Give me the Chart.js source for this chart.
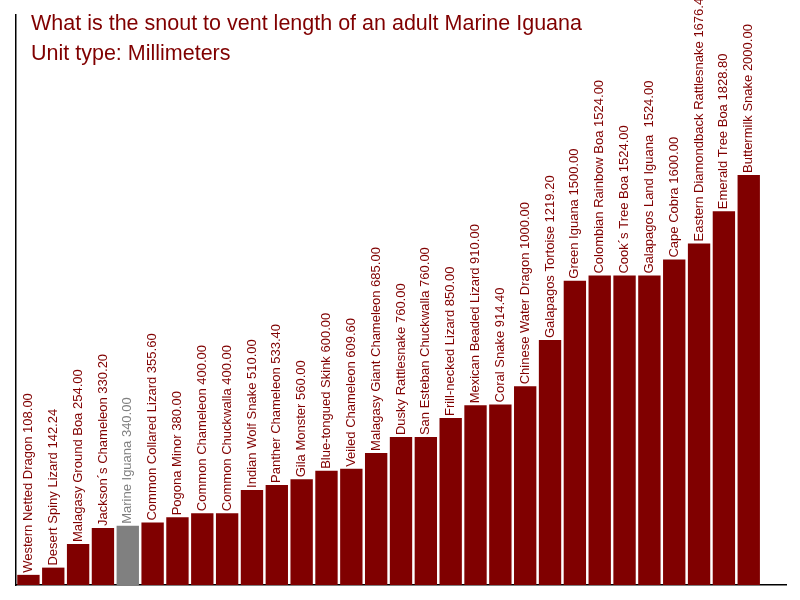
<!DOCTYPE html>
<html><head><meta charset="utf-8">
<script src="https://cdn.jsdelivr.net/npm/chart.js@4"></script>
<style>html,body{margin:0;padding:0;background:#fff}#wrap{width:800px;height:600px}</style>
</head><body><div id="wrap"><canvas id="c" width="800" height="600"></canvas></div>
<script>
const species = [
  'Western Netted Dragon','Desert Spiny Lizard','Malagasy Ground Boa','Jackson\u00b4s Chameleon',
  'Marine Iguana','Common Collared Lizard','Pogona Minor','Common Chameleon','Common Chuckwalla',
  'Indian Wolf Snake','Panther Chameleon','Gila Monster','Blue-tongued Skink','Veiled Chameleon',
  'Malagasy Giant Chameleon','Dusky Rattlesnake','San Esteban Chuckwalla','Frill-necked Lizard',
  'Mexican Beaded Lizard','Coral Snake','Chinese Water Dragon','Galapagos Tortoise','Green Iguana',
  'Colombian Rainbow Boa','Cook\u00b4s Tree Boa','Galapagos Land Iguana ','Cape Cobra',
  'Eastern Diamondback Rattlesnake','Emerald Tree Boa','Buttermilk Snake'
];
const lengths = [
  108.00, 142.24, 254.00, 330.20, 340.00, 355.60, 380.00, 400.00, 400.00,
  510.00, 533.40, 560.00, 600.00, 609.60, 685.00, 760.00, 760.00, 850.00,
  910.00, 914.40, 1000.00, 1219.20, 1500.00, 1524.00, 1524.00, 1524.00, 1600.00,
  1676.40, 1828.80, 2000.00
];
const highlight = 'Marine Iguana';
const titleLines = ['What is the snout to vent length of an adult Marine Iguana', 'Unit type: Millimeters'];

const DARK = '#800000', GREY = '#808080';
const FONT = '"Liberation Sans", Arial, sans-serif';

const labelPlugin = {
  id: 'barLabels',
  afterDatasetsDraw(chart) {
    const ctx = chart.ctx;
    const meta = chart.getDatasetMeta(0);
    ctx.save();
    ctx.font = '13px ' + FONT;
    meta.data.forEach((bar, i) => {
      ctx.save();
      ctx.translate(bar.x, bar.y - 2);
      ctx.rotate(-Math.PI / 2);
      ctx.textAlign = 'left';
      ctx.textBaseline = 'middle';
      ctx.fillStyle = species[i].trim() === highlight ? GREY : DARK;
      ctx.fillText(species[i] + ' ' + lengths[i].toFixed(2), 0, 0);
      ctx.restore();
    });
    ctx.restore();
  },
  afterDraw(chart) {
    const ctx = chart.ctx;
    ctx.save();
    ctx.font = '21.5px ' + FONT;
    ctx.fillStyle = DARK;
    ctx.textAlign = 'left';
    ctx.textBaseline = 'alphabetic';
    titleLines.forEach((t, i) => ctx.fillText(t, 31, 30 + i * 30));
    ctx.restore();
  }
};

new Chart(document.getElementById('c'), {
  type: 'bar',
  data: {
    datasets: [{
      data: lengths.map((v, i) => ({ x: i, y: v })),
      backgroundColor: species.map(s => s.trim() === highlight ? GREY : DARK),
      borderWidth: 0,
      barPercentage: 0.9,
      categoryPercentage: 1
    }]
  },
  options: {
    responsive: false,
    devicePixelRatio: 1,
    animation: false,
    layout: { padding: { left: 16, top: 15, right: 14, bottom: 15 } },
    plugins: { legend: { display: false }, tooltip: { enabled: false }, title: { display: false } },
    scales: {
      x: {
        type: 'linear', min: -0.5, max: 30.5, offset: false,
        ticks: { display: false },
        grid: { display: false, drawTicks: false, offset: false },
        border: { display: true, color: '#000', width: 1.5 }
      },
      y: {
        min: 60, max: 2757,
        ticks: { display: false },
        grid: { display: false, drawTicks: false },
        border: { display: true, color: '#000', width: 1.5 }
      }
    }
  },
  plugins: [labelPlugin]
});
</script></body></html>
